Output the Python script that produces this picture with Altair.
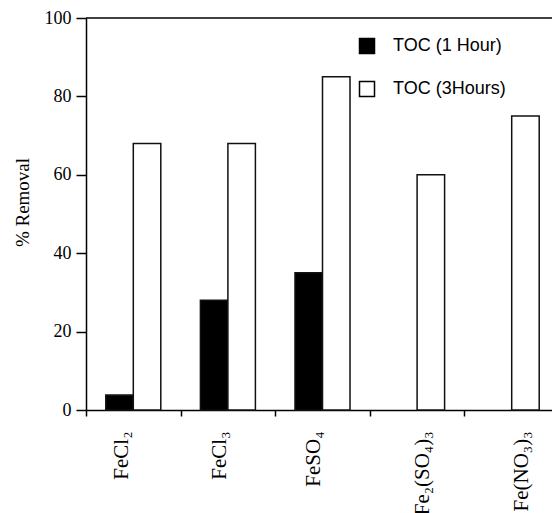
import altair as alt
import pandas as pd

categories = ["FeCl₂", "FeCl₃", "FeSO₄", "Fe₂(SO₄)₃", "Fe(NO₃)₃"]
series_names = ["TOC (1 Hour)", "TOC (3Hours)"]
toc_1h = [3.8, 28, 35, None, None]
toc_3h = [68, 68, 85, 60, 75]
y_ticks = [0, 20, 40, 60, 80, 100]
label_shift = [-12, -8, -9, 5, 10]

rows = []
for c, a, b in zip(categories, toc_1h, toc_3h):
    if a is not None:
        rows.append({"cat": c, "series": series_names[0], "value": a})
    if b is not None:
        rows.append({"cat": c, "series": series_names[1], "value": b})
df = pd.DataFrame(rows)

cat_list = "[" + ",".join("'" + c + "'" for c in categories) + "]"
shift_list = "[" + ",".join(str(s) for s in label_shift) + "]"
offset_expr = f"{shift_list}[indexof({cat_list}, datum.value)]"

y_scale = alt.Scale(domain=[0, 100], nice=False)

bars = alt.Chart(df).mark_bar(stroke="#111", strokeWidth=1.5).encode(
    x=alt.X(
        "cat:N",
        sort=categories,
        scale=alt.Scale(domain=categories, paddingInner=0, paddingOuter=0, range=[0, 473]),
        axis=alt.Axis(
            title=None,
            labelAngle=-90,
            labelFont="Liberation Serif",
            labelFontSize=21,
            labelColor="#000",
            labelPadding=15,
            labelOverlap=False,
            labelOffset={"expr": offset_expr},
            tickBand="extent",
            tickSize=6,
            tickColor="#000",
            tickWidth=1.5,
            domain=True,
            domainColor="#000",
            domainWidth=1.5,
            grid=False,
        ),
    ),
    xOffset=alt.XOffset(
        "series:N",
        scale=alt.Scale(domain=series_names, paddingOuter=0.72, paddingInner=0),
    ),
    y=alt.Y(
        "value:Q",
        scale=y_scale,
        axis=alt.Axis(
            title="% Removal",
            titleFont="Liberation Serif",
            titleFontSize=19,
            titleFontWeight="normal",
            titleColor="#000",
            titleX=-54,
            titleY=184,
            values=y_ticks,
            labelFont="Liberation Serif",
            labelFontSize=18,
            labelColor="#000",
            labelPadding=5,
            tickSize=10,
            tickColor="#000",
            tickWidth=1.5,
            domain=True,
            domainColor="#000",
            domainWidth=1.5,
            grid=False,
        ),
    ),
    color=alt.Color(
        "series:N",
        scale=alt.Scale(domain=series_names, range=["#000000", "#ffffff"]),
        legend=alt.Legend(
            title=None,
            orient="none",
            legendX=272,
            legendY=19,
            symbolType="square",
            symbolSize=225,
            symbolStrokeColor="#000",
            symbolStrokeWidth=1.5,
            labelFont="Liberation Sans",
            labelFontSize=18,
            labelColor="#000",
            labelOffset=17,
            rowPadding=21,
            padding=0,
        ),
    ),
)

top_line = alt.Chart(alt.Data(values=[{"v": 100}])).mark_rule(
    color="#000", strokeWidth=1.5
).encode(y=alt.Y("v:Q", scale=y_scale))

chart = alt.layer(bars, top_line).properties(
    width=466,
    height=392,
    autosize=alt.AutoSizeParams(type="none"),
    padding={"left": 86, "top": 18, "right": 0, "bottom": 103},
).configure(
    background="white",
).configure_view(
    stroke=None,
)

chart.save("out.html", embed_options={"renderer": "svg", "actions": False})
